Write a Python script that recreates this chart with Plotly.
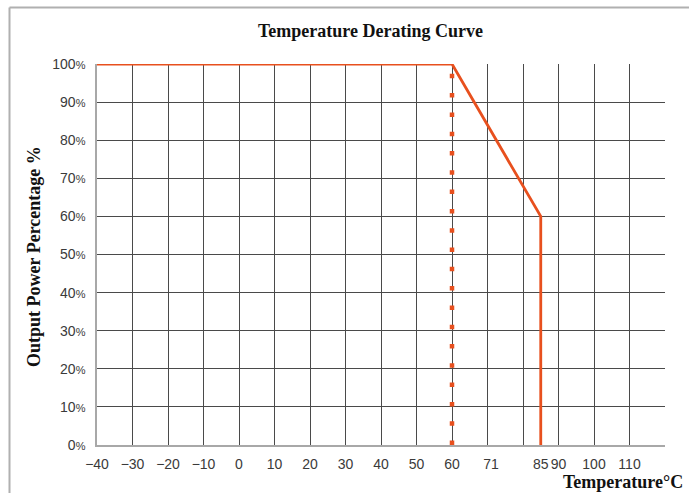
import plotly.graph_objects as go

# Data
curve_temp = [-40, 60, 85, 85]
curve_power = [100, 100, 60, 0]
limit_temp = [60, 60]
limit_power = [0, 100]

x_tick_vals = [-40, -30, -20, -10, 0, 10, 20, 30, 40, 50, 60, 71, 85, 90, 100, 110]
x_tick_text = ["\u221240", "\u221230", "\u221220", "\u221210", "0", "10", "20", "30", "40",
               "50", "60", "71", "85", "90", "100", "110"]
y_tick_vals = [0, 10, 20, 30, 40, 50, 60, 70, 80, 90, 100]
y_tick_text = [f"{v}<span style='font-size:11px'>%</span>" for v in y_tick_vals]

ORANGE = "#E8501E"
GRID = "#4a4a4a"
AXIS = "#a8a8a8"
FRAME = "#b0b0b0"
SERIF = "Liberation Serif, Times New Roman, serif"
SANS = "Liberation Sans, Arial, sans-serif"

fig = go.Figure()
# invisible trace on xaxis2 so its grid renders
fig.add_trace(go.Scatter(x=[-40, 120], y=[0, 0], xaxis="x2", mode="lines",
                         line=dict(width=0), hoverinfo="skip", showlegend=False))
fig.add_trace(go.Scatter(x=limit_temp, y=limit_power, mode="lines",
                         line=dict(color=ORANGE, width=4.5, dash="4.5px,14.8px"),
                         hoverinfo="skip", showlegend=False))
fig.add_trace(go.Scatter(x=curve_temp, y=curve_power, mode="lines",
                         line=dict(color=ORANGE, width=2.8),
                         cliponaxis=False, showlegend=False))

fig.update_layout(
    width=689, height=493,
    margin=dict(l=97, r=24, t=64, b=48),
    paper_bgcolor="white", plot_bgcolor="white",
    xaxis=dict(range=[-40, 120], tickvals=x_tick_vals, ticktext=x_tick_text,
               showgrid=False, zeroline=False, showline=True, linecolor=AXIS, linewidth=1.5,
               ticks="", ticklabelstandoff=5, tickangle=0,
               tickfont=dict(family=SANS, size=14, color="#3a3a3a")),
    xaxis2=dict(range=[-40, 120], overlaying="x", side="bottom", dtick=10, tick0=0,
                showgrid=True, gridcolor=GRID, gridwidth=1.2, showticklabels=False,
                zeroline=False, showline=False, ticks=""),
    yaxis=dict(range=[0, 100], tickvals=y_tick_vals, ticktext=y_tick_text,
               showgrid=True, gridcolor=GRID, gridwidth=1.2, zeroline=False,
               showline=True, linecolor=AXIS, linewidth=1.5, ticks="",
               ticklabelstandoff=7,
               tickfont=dict(family=SANS, size=14, color="#3a3a3a")),
    showlegend=False,
)

fig.add_annotation(text="<b>Temperature Derating Curve</b>", xref="paper", yref="paper",
                   x=0.482, y=(445 - 31) / 381, xanchor="center", yanchor="middle",
                   showarrow=False, font=dict(family=SERIF, size=18, color="#111"))
fig.add_annotation(text="<b>Output Power Percentage %</b>", xref="paper", yref="paper",
                   x=(34 - 97) / 568, y=(445 - 257) / 381, xanchor="center", yanchor="middle",
                   textangle=-90, showarrow=False,
                   font=dict(family=SERIF, size=18, color="#111"))
fig.add_annotation(text="<b>Temperature°C</b>", xref="paper", yref="paper",
                   x=(685 - 97) / 568, y=(445 - 482) / 381, xanchor="right", yanchor="middle",
                   showarrow=False, font=dict(family=SERIF, size=18, color="#111"))

# outer frame (top and left edges)
fig.add_shape(type="line", xref="paper", yref="paper",
              x0=(9.5 - 97) / 568, x1=(700 - 97) / 568, y0=(445 - 7.5) / 381, y1=(445 - 7.5) / 381,
              line=dict(color=FRAME, width=2))
fig.add_shape(type="line", xref="paper", yref="paper",
              x0=(9.5 - 97) / 568, x1=(9.5 - 97) / 568, y0=(445 - 7.5) / 381, y1=(445 - 500) / 381,
              line=dict(color=FRAME, width=2))

fig.write_html("out.html", config={"displayModeBar": False},
               post_script="document.body.style.margin='0';")
